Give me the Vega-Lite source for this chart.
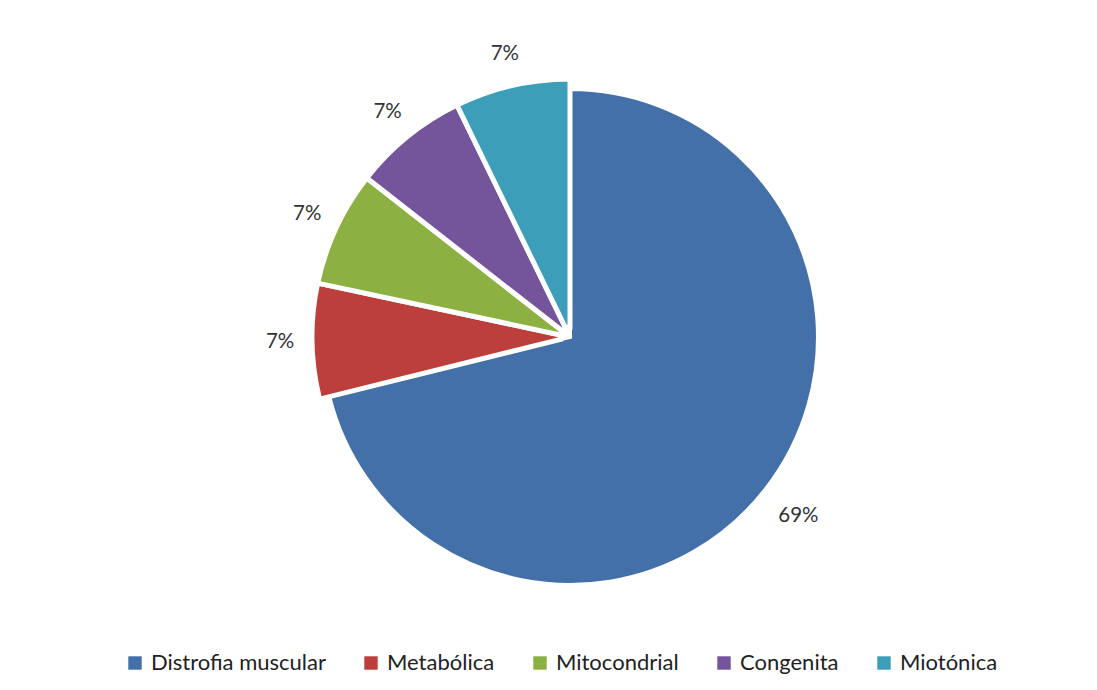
{
  "$schema": "https://vega.github.io/schema/vega-lite/v6.json",
  "autosize": "none",
  "padding": {"left": 43, "top": 0, "right": 0, "bottom": 0},
  "width": 1054,
  "height": 674,
  "background": "white",
  "config": {"view": {"stroke": null}, "font": "Lato"},
  "data": {
    "values": [
      {"idx": 1, "cat": "Distrofia muscular", "value": 69, "label": "69%"},
      {"idx": 2, "cat": "Metabólica", "value": 7, "label": "7%"},
      {"idx": 3, "cat": "Mitocondrial", "value": 7, "label": "7%"},
      {"idx": 4, "cat": "Congenita", "value": 7, "label": "7%"},
      {"idx": 5, "cat": "Miotónica", "value": 7, "label": "7%"}
    ]
  },
  "encoding": {
    "theta": {"field": "value", "type": "quantitative", "stack": true},
    "order": {"field": "idx", "type": "quantitative"},
    "color": {
      "field": "cat",
      "type": "nominal",
      "sort": ["Distrofia muscular", "Metabólica", "Mitocondrial", "Congenita", "Miotónica"],
      "scale": {
        "domain": ["Distrofia muscular", "Metabólica", "Mitocondrial", "Congenita", "Miotónica"],
        "range": ["#4470AA", "#BD3F3C", "#8DB043", "#74559B", "#3D9EB9"]
      },
      "legend": {
        "title": null,
        "orient": "none",
        "direction": "horizontal",
        "columns": 5,
        "legendX": 81,
        "legendY": 652,
        "symbolType": "square",
        "symbolSize": 180,
        "symbolStrokeWidth": 0,
        "labelFontSize": 22,
        "labelFont": "Lato",
        "labelColor": "#222222",
        "labelOffset": 5,
        "columnPadding": 34,
        "labelLimit": 300
      }
    }
  },
  "layer": [
    {
      "mark": {"type": "arc", "outerRadius": 248, "stroke": "white", "strokeWidth": 4},
      "encoding": {
        "opacity": {"condition": {"test": "datum.cat === 'Distrofia muscular'", "value": 1}, "value": 0}
      }
    },
    {
      "mark": {"type": "arc", "outerRadius": 258, "innerRadius": 10, "stroke": "white", "strokeWidth": 5},
      "encoding": {
        "opacity": {"condition": {"test": "datum.cat === 'Distrofia muscular'", "value": 0}, "value": 1}
      }
    },
    {
      "mark": {"type": "text", "radius": 290, "fontSize": 20.5, "font": "Lato", "fill": "#333333"},
      "encoding": {
        "text": {"field": "label", "type": "nominal"},
        "color": {"value": "#333333"}
      }
    }
  ]
}
